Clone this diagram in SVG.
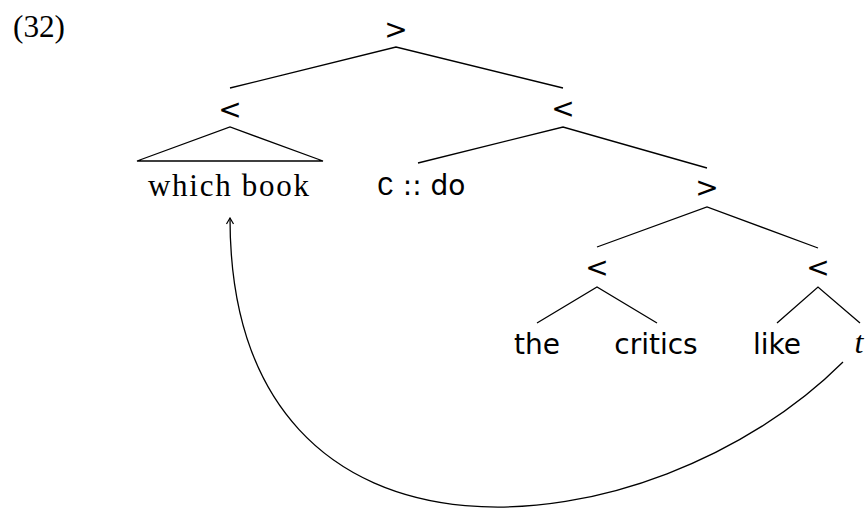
<svg xmlns="http://www.w3.org/2000/svg" width="865" height="508" viewBox="0 0 865 508">
<style>
.sym{font-family:"DejaVu Sans",sans-serif;font-size:28px;text-anchor:middle;fill:#000}
.sans{font-family:"DejaVu Sans",sans-serif;font-size:28px;text-anchor:middle;fill:#000}
.serif{font-family:"Liberation Serif",serif;fill:#000}
.edge{stroke:#000;stroke-width:1.3;fill:none}
</style>
<defs>
<marker id="arr" viewBox="0 0 10 10" refX="9" refY="5" markerWidth="10" markerHeight="10" markerUnits="userSpaceOnUse" orient="auto">
<path d="M3,1.5 L9,5 L3,8.5" fill="none" stroke="#000" stroke-width="1.2"/>
</marker>
</defs>
<rect width="865" height="508" fill="#fff"/>
<text class="serif" x="13" y="37" font-size="32" textLength="52" lengthAdjust="spacingAndGlyphs">(32)</text>
<g id="root"><text class="sym" x="396" y="39">&gt;</text></g>
<g id="n-left"><text class="sym" x="230" y="119">&lt;</text></g>
<g id="n-right"><text class="sym" x="563" y="118">&lt;</text></g>
<g id="n-whichbook"><text class="serif" x="148" y="196" font-size="31" textLength="161" lengthAdjust="spacing">which book</text></g>
<g id="n-cdo"><text x="377" y="195" font-size="28" fill="#000"><tspan font-family="Liberation Mono, monospace">C</tspan><tspan font-family="DejaVu Sans, sans-serif"> :: do</tspan></text></g>
<g id="n-gt"><text class="sym" x="707" y="197">&gt;</text></g>
<g id="n-lt1"><text class="sym" x="597" y="277">&lt;</text></g>
<g id="n-lt2"><text class="sym" x="818" y="277">&lt;</text></g>
<g id="n-the"><text class="sans" x="537" y="354">the</text></g>
<g id="n-critics"><text class="sans" x="656" y="354">critics</text></g>
<g id="n-like"><text class="sans" x="777" y="354">like</text></g>
<g id="n-t"><text x="859" y="353" font-family="Liberation Serif, serif" font-style="italic" font-size="32" text-anchor="middle" fill="#000">t</text></g>
<g id="connectors">
<path class="edge" d="M230,88 L396,47 L563,88"/>
<path class="edge" d="M137,161 L230,127 L323,161 Z"/>
<path class="edge" d="M418,163 L563,127 L707,168"/>
<path class="edge" d="M597,247 L707,207 L818,248"/>
<path class="edge" d="M537,323 L597,287 L657,323"/>
<path class="edge" d="M777,323 L818,287 L860,323"/>
<path class="edge" d="M843,362 C653,552 230,603 230,218" marker-end="url(#arr)"/>
</g>
</svg>
